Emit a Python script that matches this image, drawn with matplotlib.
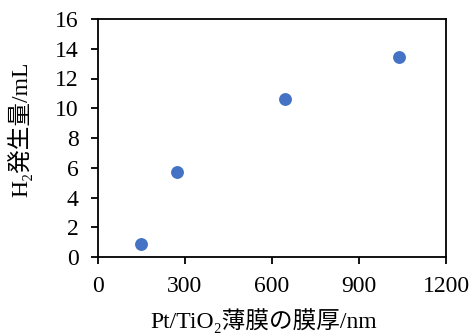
import matplotlib
matplotlib.use("Agg")
import matplotlib.pyplot as plt

# film thickness (nm) vs H2 evolved (mL)
thickness_nm = [147, 273, 646, 1037]
h2_ml = [0.87, 5.7, 10.6, 13.42]
x_ticks = [0, 300, 600, 900, 1200]
y_ticks = [0, 2, 4, 6, 8, 10, 12, 14, 16]

plt.rcParams["font.family"] = ["Liberation Serif", "Noto Sans CJK JP"]

fig = plt.figure(figsize=(4.71, 3.33), dpi=100)
ax = fig.add_axes([98 / 471, 1 - 257 / 333, 348 / 471, 238 / 333])

ax.scatter(thickness_nm, h2_ml, s=68, color="#4472C4", zorder=3)

ax.set_xlim(0, 1200)
ax.set_ylim(0, 16)
ax.set_xticks(x_ticks)
ax.set_yticks(y_ticks)
ax.tick_params(direction="out", length=5, width=1.3, labelsize=17, colors="black")
ax.tick_params(axis="x", pad=9)
ax.tick_params(axis="y", pad=9)
for sp in ax.spines.values():
    sp.set_linewidth(1.3)

ax.set_xlabel("Pt/TiO₂薄膜の膜厚/nm", fontsize=17)
ax.set_ylabel("H₂発生量/mL", fontsize=17)
ax.xaxis.set_label_coords(0.476, -0.215)
ax.yaxis.set_label_coords(-0.19, 0.538)

fig.savefig("out.png", dpi=100)
